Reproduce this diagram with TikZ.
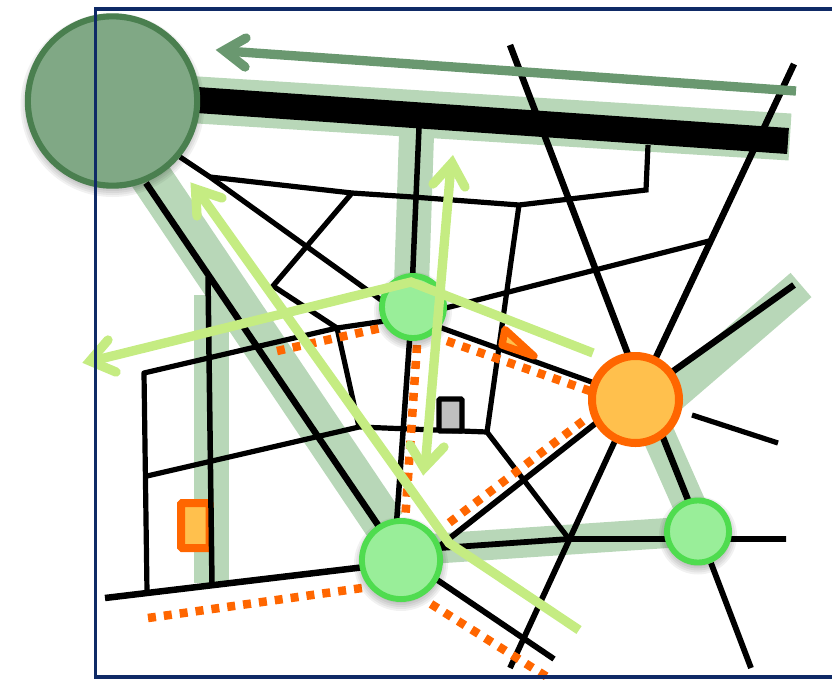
\documentclass[tikz,border=0pt]{standalone}
\definecolor{band}{HTML}{B8D7B8}
\definecolor{navy}{HTML}{0F2A66}
\definecolor{orangeline}{HTML}{FF6600}
\definecolor{orangefill}{HTML}{FFC04D}
\definecolor{greenfill}{HTML}{99EE99}
\definecolor{greenline}{HTML}{4FDC4F}
\definecolor{darkfill}{HTML}{80A885}
\definecolor{darkline}{HTML}{4A7F4F}
\definecolor{darkarrow}{HTML}{6A9870}
\definecolor{lightarrow}{HTML}{C5EC82}
\tikzset{
  roadband/.style={draw=band,line width=#1*0.75pt},
  road/.style={draw=black,line width=#1*0.75pt},
  planned/.style={draw=orangeline,line width=6.4pt,dash pattern=on 6pt off 6pt},
  arrowshaft/.style={line width=7pt,line join=miter},
  arrowbarb/.style={line width=7pt,line cap=round,line join=miter,miter limit=20},
  greennode/.style={circle,inner sep=0pt,draw=greenline,fill=greenfill,line width=4.4pt},
  orangenode/.style={circle,inner sep=0pt,draw=orangeline,fill=orangefill,line width=6pt},
  bignode/.style={circle,inner sep=0pt,draw=darkline,fill=darkfill,line width=4.6pt}
}
\newcommand{\softshade}[3]{%
  \foreach \k in {-1,1,3,5,7}{%
    \fill[black,opacity=0.055] (#1,#2+4) circle ({#3+\k});%
  }%
}
\begin{document}
\begin{tikzpicture}[x=0.75pt,y=-0.75pt]
\useasboundingbox (0,0) rectangle (832,679);
\clip (0,0) rectangle (832,679);
% junctions
\coordinate (bigc) at (112.5,101);
\coordinate (topc) at (413,307);
\coordinate (botc) at (401,560);
\coordinate (rgtc) at (698,531.5);
\coordinate (orgc) at (635.5,399.5);
\coordinate (j1) at (210,177);
\coordinate (j2) at (352,193);
\coordinate (j3) at (519,205);
\coordinate (j4) at (273,286);
\coordinate (j5) at (337,328);
\coordinate (j6) at (359,427);
\coordinate (j7) at (487,432);
\coordinate (j8) at (569,539);
\coordinate (j9) at (144,373);
% pale bands
\path[roadband=47] (190,99.5) -- (790,137);
\path[roadband=35] (417,120) -- (411,300);
\path[roadband=42] (145,168) -- (385,525);
\path[roadband=35] (211.5,295) -- (211.5,583);
\path[roadband=32] (650,415) -- (801,285);
\path[roadband=33] (643,400) -- (700.5,530);
\path[roadband=30] (400,551) -- (697,531);
% orange rectangle
\draw[orangeline,fill=orangefill,line width=6pt,rounded corners=1pt] (181,503) rectangle (209.5,548);
% thick roads
\path[road=26] (190,99.5) -- (788,141);
\path[road=6.5] (146,183) -- (380,528);
\path[road=6.5] (510,45) -- (632,365);
\path[road=6.5] (794,64) -- (650,370);
\path[road=6.5] (794,285) -- (665,377);
\path[road=6.5] (660,430) -- (690,505);
\path[road=6.5] (105,598) -- (365,567);
% thin roads
\path[road=5.2] (180,157) -- (j1) -- (395,310);
\path[road=5.2] (j1) -- (j2) -- (413,197) -- (j3) -- (646,190) -- (648,145);
\path[road=5.2] (j2) -- (j4) -- (j5) -- (j6);
\path[road=5.5,line join=miter] (419,128) -- (412,290);
\path[road=5.2,line join=round] (385,321) -- (j5) -- (j9) -- (147,592);
\path[road=5.5] (208,277) -- (212,585);
\path[road=5.2] (147,476) -- (j6) -- (j7);
\path[road=5.5] (411,320) -- (396,530);
\path[road=5.2] (430,312) -- (709,241);
\path[road=5.2] (j3) -- (j7) -- (j8);
\path[road=5.2] (425,322) -- (600,385);
\path[road=5.2] (692,415) -- (778,443);
\path[road=5.8] (711,563) -- (751,668);
\path[road=5.8] (620,430) -- (510,668);
\path[road=5.8] (610,412) -- (436,549);
\path[road=5.8] (440,548) -- (j8) -- (786,539);
\path[road=5.8] (430,575) -- (554,659);
% gray square
\draw[black,fill=black!25,line width=3.8pt,rounded corners=0.8pt] (439,399) rectangle (462,431);
% orange triangle
\draw[orangeline,fill=orangefill,line width=5.5pt,line join=round] (505,329.5) -- (534,356) -- (502,345) -- cycle;
% planned dotted
\path[planned] (148,618) -- (362,588);
\path[planned] (277,351) -- (381,328);
\path[planned] (417,345) -- (405,522);
\path[planned] (447,341) -- (590,391);
\path[planned] (583,421) -- (441,529);
\path[planned] (431,604) -- (552,680);
% nodes
\softshade{401}{560}{40}
\softshade{413}{307}{32}
\softshade{698}{531.5}{32}
\softshade{112.5}{101}{85}
\node[bignode,minimum size=127pt] (big) at (bigc) {};
\node[greennode,minimum size=46.5pt] (ntop) at (topc) {};
\node[greennode,minimum size=58.6pt] (nbot) at (botc) {};
\node[greennode,minimum size=46.5pt] (nrgt) at (rgtc) {};
\node[orangenode,minimum size=65.25pt] (norg) at (orgc) {};
% dark arrow
\draw[darkarrow,arrowshaft] (796,91) -- (226,51);
\draw[darkarrow,arrowbarb] (246,38) -- (224,50.5) -- (245,67);
% light arrows
\draw[lightarrow,arrowshaft] (579,630) -- (449,543) -- (197,190);
\draw[lightarrow,arrowbarb] (197,216) -- (195.5,189) -- (222,198);
\draw[lightarrow,arrowshaft] (593,353) -- (411,282) -- (92,361);
\draw[lightarrow,arrowbarb] (108,340) -- (90,361) -- (116,372);
\draw[lightarrow,arrowshaft] (451,165) -- (425,468);
\draw[lightarrow,arrowbarb] (433,184) -- (452,163) -- (465,187);
\draw[lightarrow,arrowbarb] (410,445) -- (424,468) -- (444,447);
% frame
\draw[navy,line width=2.6pt,line join=miter] (845,9) -- (95.5,9) -- (95.5,677) -- (845,677);
\end{tikzpicture}
\end{document}
